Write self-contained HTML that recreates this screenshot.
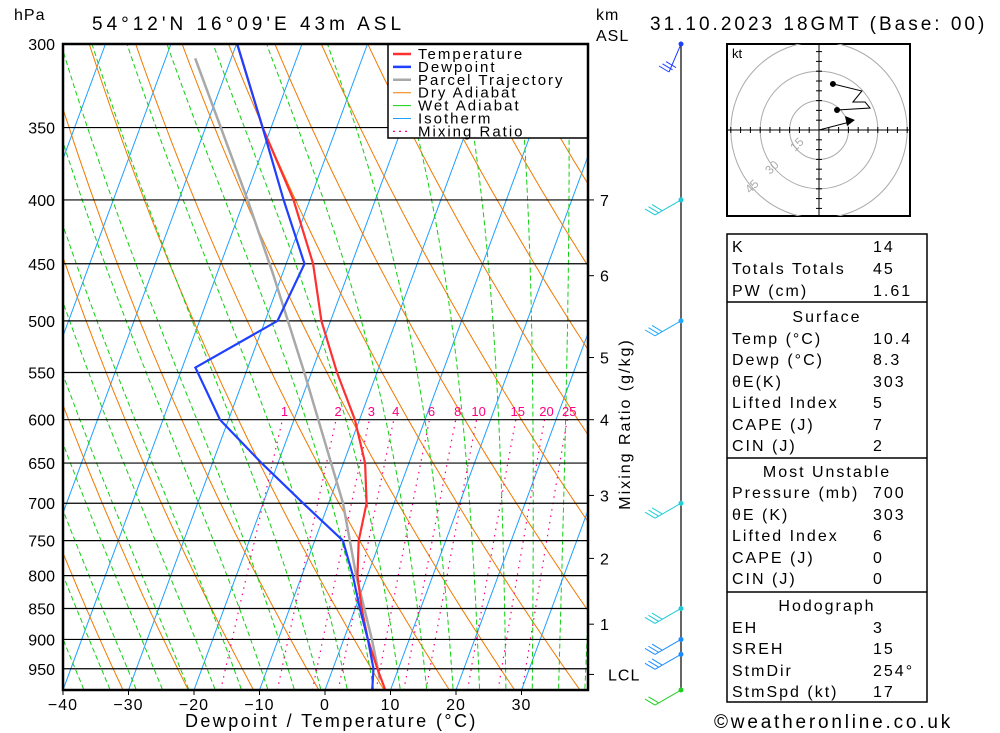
<!DOCTYPE html>
<html><head><meta charset="utf-8"><style>
body{margin:0;background:#fff;}
svg{display:block;font-family:"Liberation Sans",sans-serif;}
.t{font-size:16px;fill:#000;letter-spacing:1px}
</style></head><body>
<svg id="c" width="1000" height="733" viewBox="0 0 1000 733">
<defs><clipPath id="pc"><rect x="63" y="44" width="525" height="646"/></clipPath>
<clipPath id="hc"><rect x="727" y="44" width="183" height="172"/></clipPath></defs>
<g id="bg" clip-path="url(#pc)"></g>
<g id="hl"></g>
<g id="mr"></g>
<g id="prof" clip-path="url(#pc)"></g>
<rect x="388" y="44" width="200" height="94" fill="#fff" stroke="#000" stroke-width="1.5"/>
<g id="leg"></g>
<rect x="63" y="44" width="525" height="646" fill="none" stroke="#000" stroke-width="2.5"/>
<g id="ax"></g>
<text x="14" y="20" class="t">hPa</text>
<text x="92" y="30" style="font-size:19px;letter-spacing:4px">54°12'N 16°09'E 43m ASL</text>
<text x="596" y="20" class="t">km</text>
<text x="596" y="41" class="t">ASL</text>
<text x="650" y="30" style="font-size:19px;letter-spacing:3px">31.10.2023 18GMT (Base: 00)</text>
<text x="185" y="727" style="font-size:18px;letter-spacing:2.4px">Dewpoint / Temperature (°C)</text>
<text transform="translate(630,424) rotate(-90)" text-anchor="middle" style="font-size:16px;letter-spacing:2px">Mixing Ratio (g/kg)</text>
<g id="wind"></g>
<g id="hodo"></g>
<g id="tbl"></g>
<text x="714" y="728" style="font-size:19px;letter-spacing:2.8px">©weatheronline.co.uk</text>
</svg>
<script>
const tempP=[300,350,400,450,500,550,600,650,700,750,800,850,900,950,988];
const tempT=[-49.9,-41.3,-32.5,-25.9,-21.4,-16.1,-10.7,-6.7,-4.2,-3.3,-1.5,1.0,3.7,6.8,9.2];
const dewP=[300,350,400,450,500,545,600,650,700,750,800,850,900,950,988];
const dewT=[-49.9,-41.3,-34,-27.2,-28.1,-38,-31.3,-22.5,-13.9,-5.7,-2.2,0.7,3.7,6.2,7.2];
const parcelP=[308,400,458,550,700,800,900,969];
const parcelT=[-55.5,-39.5,-31.5,-21.1,-7.8,-1.7,4.3,7.8];
const pressureTicks=[300,350,400,450,500,550,600,650,700,750,800,850,900,950];
const tempTicks=[-40,-30,-20,-10,0,10,20,30];
const kmLabels=["7","6","5","4","3","2","1","LCL"];
const kmP=[400,460,535,600,690,775,875,960];
const mixRatios=[1,2,3,4,6,8,10,15,20,25];
const hodoU=[9.2,26,23.5,17.3,21.9,7.1];
const hodoV=[10.2,11.2,14.3,14.3,19.9,23.5];
const stormU=[15.8], stormV=[4.1];
const windP=[300,400,500,700,850,900,925,988];
const windCol=["#2040ff","#20c8d8","#20a8ff","#20d0d8","#20c8d8","#1a8cff","#1a8cff","#20d020"];

const NS="http://www.w3.org/2000/svg";
function yP(p){return 44+542*Math.log(p/300);}
function xT(T,y){return 63+(T+40)*6.55+(690-y)*0.37;}
function mk(tag,at,parent){const e=document.createElementNS(NS,tag);for(const k in at)e.setAttribute(k,at[k]);parent.appendChild(e);return e;}
const bg=document.getElementById('bg');
function poly(pts,st,parent,name){const e=mk('polyline',{points:pts.map(q=>q[0].toFixed(1)+','+q[1].toFixed(1)).join(' '),fill:'none',...st},parent);

return e;}
for(let T=-120;T<=50;T+=10){const pts=[[xT(T,690),690],[xT(T,44),44]];poly(pts,{stroke:'#1ea0ff','stroke-width':1},bg,'isotherm');}
for(let th=-40;th<=200;th+=10){const pts=[];for(let p=1000;p>=290;p-=10){const T=(th+273.15)*Math.pow(p/1000,0.286)-273.15;pts.push([xT(T,yP(p)),yP(p)]);}poly(pts,{stroke:'#f07800','stroke-width':1},bg,'dry-adiabat');}
function es(Tc){return 6.112*Math.exp(17.67*Tc/(Tc+243.5));}
for(let tw=-40;tw<=40;tw+=4){let T=tw+273.15,pts=[];for(let p=1000;p>=290;p-=5){pts.push([xT(T-273.15,yP(p)),yP(p)]);const e=es(T-273.15),r=0.622*e/(p-e),L=2.5e6,R=287,cp=1004;const dTdp=(R*T+L*r)/(cp+L*L*r*0.622/(R*T*T))/p;T-=dTdp*5;}poly(pts,{stroke:'#10d010','stroke-width':1,'stroke-dasharray':'5,3'},bg,'wet-adiabat');}
const mrg=document.getElementById('mr');
mixRatios.forEach(w=>{const pts=[];for(let p=1000;p>=600;p-=10){const e=w*p*1.12/(622+w),l=Math.log(e/6.112),Td=243.5*l/(17.67-l);pts.push([xT(Td,yP(p)),yP(p)]);}
poly(pts,{stroke:'#ff0080','stroke-width':1.2,'stroke-dasharray':'1.5,5'},bg,'mixing-ratio-line');
const x=pts[pts.length-1][0];const t=mk('text',{x:x+2,y:416,'text-anchor':'middle',fill:'#ff0080','font-size':'13'},mrg);t.textContent=w;

});
const hl=document.getElementById('hl'),ax=document.getElementById('ax');
pressureTicks.forEach(p=>{const y=yP(p);const l=mk('line',{x1:63,x2:588,y1:y,y2:y,stroke:'#000','stroke-width':1.2},hl);


const t=mk('text',{x:55,y:y+6,'text-anchor':'end','font-size':'16'},ax);t.textContent=p;

});
tempTicks.forEach(T=>{const x=xT(T,690);mk('line',{x1:x,x2:x,y1:690,y2:695,stroke:'#000'},ax);const t=mk('text',{x:x,y:710,'text-anchor':'middle','font-size':'16','letter-spacing':'1'},ax);t.textContent=(T<0?'\u2212':'')+Math.abs(T);

});
kmLabels.forEach((k,i)=>{const y=yP(kmP[i]);mk('line',{x1:588,x2:594,y1:y,y2:y,stroke:'#000'},ax);const t=mk('text',{x:k==='LCL'?608:600,y:y+6,'font-size':'16','letter-spacing':'1'},ax);t.textContent=k;

});
const pr=document.getElementById('prof');
function prof(P,T){return P.map((p,i)=>[xT(T[i],yP(p)),yP(p)]);}
poly(prof(parcelP,parcelT),{stroke:'#a8a8a8','stroke-width':2.5},pr,'parcel-trajectory');
poly(prof(tempP,tempT),{stroke:'#ff3030','stroke-width':2.2},pr,'temperature-line');
poly(prof(dewP,dewT),{stroke:'#2040ff','stroke-width':2.2},pr,'dewpoint-line');
const leg=document.getElementById('leg');
[["Temperature","#ff3030",2.5,""],["Dewpoint","#2040ff",2.5,""],["Parcel Trajectory","#a8a8a8",2.5,""],["Dry Adiabat","#f07800",1,""],["Wet Adiabat","#10d010",1,""],["Isotherm","#1ea0ff",1,""],["Mixing Ratio","#ff0080",1.2,"2,4"]].forEach((e,i)=>{const y=54+i*12.9;
mk('line',{x1:393,x2:411,y1:y,y2:y,stroke:e[1],'stroke-width':e[2],'stroke-dasharray':e[3]},leg);
const t=mk('text',{x:418,y:y+5,'font-size':'15','letter-spacing':'2'},leg);t.textContent=e[0];

});
const wg=document.getElementById('wind');
mk('line',{x1:681,x2:681,y1:44,y2:690,stroke:'#000','stroke-width':1.2},wg);
windP.forEach((p,i)=>{const y=yP(p),c=windCol[i];mk('circle',{cx:681,cy:y,r:2.5,fill:c},wg);
const ex=i==0?669:655,ey=y+(i==0?28:15);mk('line',{x1:681,y1:y,x2:ex,y2:ey,stroke:c,'stroke-width':1},wg);
const n=i==7?2:3;for(let k=0;k<n;k++){const bx=ex+k*3.5,by=ey-k*2.2;mk('line',{x1:bx,y1:by,x2:bx-10,y2:by-6,stroke:c,'stroke-width':1},wg);}
});
const hg=document.getElementById('hodo'),cx=819,cy=130,s=1.96;
mk('rect',{x:727,y:44,width:183,height:172,fill:'#fff',stroke:'#000','stroke-width':2},hg);
const hc=mk('g',{'clip-path':'url(#hc)'},hg);
[15,30,45].forEach(r=>mk('circle',{cx:cx,cy:cy,r:r*s,fill:'none',stroke:'#aaa'},hc));
mk('line',{x1:727,x2:910,y1:cy,y2:cy,stroke:'#000'},hc);mk('line',{x1:cx,x2:cx,y1:44,y2:216,stroke:'#000'},hc);
for(let k=-45;k<=45;k+=5){mk('line',{x1:cx+k*s,x2:cx+k*s,y1:cy-3,y2:cy+3,stroke:'#000'},hc);mk('line',{y1:cy+k*s,y2:cy+k*s,x1:cx-3,x2:cx+3,stroke:'#000'},hc);}
[[15,795,152],[30,770,175],[45,750,194]].forEach(a=>{const t=mk('text',{x:a[1],y:a[2],fill:'#aaa','font-size':'12',transform:`rotate(-45 ${a[1]} ${a[2]})`},hc);t.textContent=a[0];});
const ht=mk('text',{x:732,y:58,'font-size':'13'},hg);ht.textContent='kt';
poly(hodoU.map((u,i)=>[cx+u*s,cy-hodoV[i]*s]),{stroke:'#000','stroke-width':1},hg,'hodograph-trace');
[0,hodoU.length-1].forEach(i=>mk('circle',{cx:cx+hodoU[i]*s,cy:cy-hodoV[i]*s,r:3,fill:'#000'},hg));
const sx=cx+stormU[0]*s,sy=cy-stormV[0]*s;mk('line',{x1:cx,y1:cy,x2:sx,y2:sy,stroke:'#000'},hg);
mk('polygon',{points:`${sx+5},${sy-2} ${sx-5},${sy-6} ${sx-3},${sy+4}`,fill:'#000'},hg);
const tb=document.getElementById('tbl');
mk('rect',{x:727,y:234,width:200,height:468,fill:'#fff',stroke:'#000','stroke-width':1.5},tb);
[302,458,592].forEach(y=>mk('line',{x1:727,x2:927,y1:y,y2:y,stroke:'#000','stroke-width':1.5},tb));
const rows=[["K","14",246],["Totals Totals","45",268],["PW (cm)","1.61",290],["#Surface","",316],["Temp (°C)","10.4",338],["Dewp (°C)","8.3",359],["θE(K)","303",381],["Lifted Index","5",402],["CAPE (J)","7",424],["CIN (J)","2",445],["#Most Unstable","",471],["Pressure (mb)","700",492],["θE (K)","303",514],["Lifted Index","6",535],["CAPE (J)","0",557],["CIN (J)","0",578],["#Hodograph","",605],["EH","3",627],["SREH","15",648],["StmDir","254°",670],["StmSpd (kt)","17",691]];
rows.forEach(r=>{const hd=r[0][0]==='#';const t=mk('text',{x:hd?827:732,y:r[2]+6,'text-anchor':hd?'middle':'start','font-size':'16','letter-spacing':'2'},tb);t.textContent=hd?r[0].slice(1):r[0];


if(!hd){const v=mk('text',{x:873,y:r[2]+6,'font-size':'16','letter-spacing':'2'},tb);v.textContent=r[1];

}});
</script>
</body></html>
